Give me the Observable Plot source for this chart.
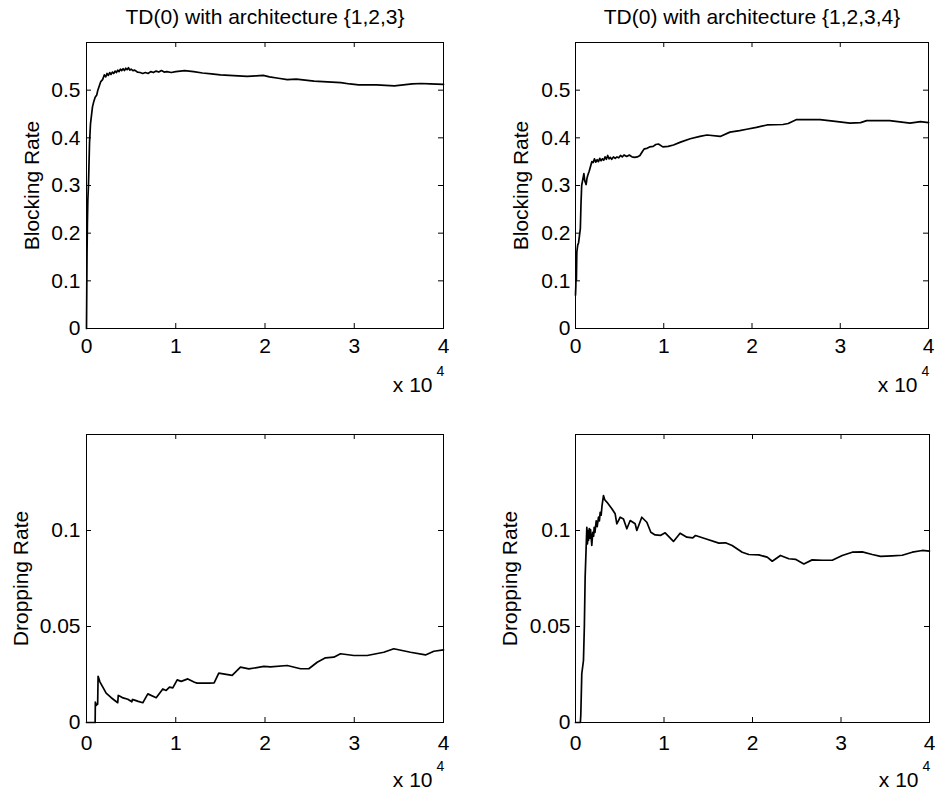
<!DOCTYPE html>
<html>
<head>
<meta charset="utf-8">
<script src="https://cdn.jsdelivr.net/npm/d3@7"></script>
<script src="https://cdn.jsdelivr.net/npm/@observablehq/plot@0.6"></script>
<style>
  body { margin: 0; background: #fff; }
  #chart { position: relative; width: 935px; height: 790px; background: #fff; }
  #chart svg { position: absolute; }
</style>
</head>
<body>
<div id="chart"></div>
<script>
// ---- tick values and labels ----
const xTicks = [0, 10000, 20000, 30000, 40000];
const blockTicks = [0, 0.1, 0.2, 0.3, 0.4, 0.5];
const dropTicks = [0, 0.05, 0.1];
const titles = ["TD(0) with architecture {1,2,3}", "TD(0) with architecture {1,2,3,4}"];
const yLabels = ["Blocking Rate", "Dropping Rate"];
const xExponentBase = "x 10";
const xExponent = "4";

// ---- Blocking rate, architecture {1,2,3} ----
const blockX123 = [0, 30, 60, 100, 150, 220, 340, 450, 670, 800, 970, 1150, 1270, 1450, 1600, 1800, 2000, 2150, 2300, 2450, 2600, 2750, 2900, 3050, 3200, 3350, 3500, 3650, 3800, 3950, 4100, 4250, 4400, 4550, 4700, 4850, 5000, 5200, 5400, 5700, 6000, 6300, 6600, 6900, 7200, 7500, 7800, 8100, 8400, 8700, 9000, 9500, 10000, 11000, 12000, 13000, 14000, 15000, 16000, 17000, 18000, 19000, 19800, 20500, 21500, 22500, 23500, 24500, 25500, 26500, 27500, 28500, 29500, 30500, 31500, 32500, 33500, 34500, 35500, 36500, 37500, 38500, 40000];
const blockY123 = [0.0, 0.08, 0.16, 0.22, 0.27, 0.30, 0.39, 0.43, 0.465, 0.475, 0.485, 0.49, 0.50, 0.51, 0.518, 0.522, 0.532, 0.528, 0.535, 0.531, 0.537, 0.533, 0.538, 0.535, 0.54, 0.537, 0.542, 0.539, 0.544, 0.541, 0.545, 0.541, 0.546, 0.543, 0.547, 0.542, 0.544, 0.541, 0.542, 0.538, 0.537, 0.535, 0.537, 0.535, 0.539, 0.537, 0.540, 0.538, 0.541, 0.538, 0.539, 0.537, 0.539, 0.541, 0.539, 0.536, 0.534, 0.532, 0.531, 0.530, 0.529, 0.530, 0.531, 0.528, 0.525, 0.522, 0.523, 0.521, 0.519, 0.518, 0.517, 0.516, 0.513, 0.511, 0.511, 0.511, 0.510, 0.509, 0.511, 0.513, 0.514, 0.513, 0.512];

// ---- Blocking rate, architecture {1,2,3,4} ----
const blockX1234 = [0, 40, 70, 100, 150, 250, 350, 450, 550, 620, 700, 800, 950, 1050, 1200, 1300, 1400, 1550, 1700, 1850, 2000, 2150, 2300, 2450, 2600, 2750, 2900, 3050, 3200, 3350, 3500, 3650, 3800, 3950, 4100, 4300, 4500, 4700, 4900, 5100, 5300, 5500, 5800, 6100, 6400, 6700, 7000, 7300, 7600, 7800, 8100, 8400, 8800, 9100, 9400, 9900, 10500, 11100, 11900, 13000, 14100, 14900, 16400, 17500, 18600, 19400, 20500, 21700, 23500, 24100, 25000, 26200, 27700, 29200, 31100, 32300, 33000, 35600, 37900, 39100, 40000];
const blockY1234 = [0.07, 0.09, 0.14, 0.10, 0.16, 0.175, 0.18, 0.195, 0.21, 0.26, 0.30, 0.31, 0.325, 0.31, 0.302, 0.315, 0.322, 0.33, 0.34, 0.35, 0.348, 0.356, 0.349, 0.354, 0.350, 0.357, 0.352, 0.356, 0.353, 0.36, 0.355, 0.363, 0.356, 0.359, 0.355, 0.36, 0.357, 0.36, 0.358, 0.363, 0.36, 0.364, 0.361, 0.364, 0.36, 0.359, 0.36, 0.363, 0.372, 0.377, 0.378, 0.381, 0.382, 0.386, 0.387, 0.381, 0.382, 0.385, 0.391, 0.398, 0.403, 0.406, 0.403, 0.412, 0.415, 0.418, 0.422, 0.427, 0.428, 0.430, 0.438, 0.438, 0.438, 0.435, 0.431, 0.432, 0.436, 0.436, 0.431, 0.434, 0.432];

// ---- Dropping rate, architecture {1,2,3} ----
const dropX123 = [0, 970, 990, 1100, 1200, 1250, 1300, 1500, 1830, 2200, 2770, 3500, 3560, 3700, 4100, 4630, 5080, 5150, 5300, 5800, 6310, 6400, 6870, 7810, 8550, 8930, 9300, 9670, 10160, 10610, 11350, 12100, 12400, 13700, 14300, 14820, 16320, 17250, 18190, 19870, 20620, 22490, 23980, 24910, 25850, 26780, 27710, 28460, 29950, 31450, 33310, 34430, 36300, 37980, 38920, 40000];
const dropY123 = [0, 0, 0.0106, 0.0089, 0.0097, 0.0095, 0.0241, 0.0212, 0.0184, 0.0153, 0.0129, 0.0103, 0.0141, 0.0138, 0.0128, 0.0121, 0.0108, 0.012, 0.0118, 0.0110, 0.0103, 0.0110, 0.0149, 0.0129, 0.0175, 0.0167, 0.0184, 0.018, 0.0222, 0.0214, 0.0227, 0.021, 0.0205, 0.0205, 0.0206, 0.0257, 0.0245, 0.0288, 0.0279, 0.0292, 0.029, 0.0297, 0.028, 0.028, 0.0314, 0.0337, 0.034, 0.0358, 0.0349, 0.0349, 0.0366, 0.0384, 0.0366, 0.0352, 0.0371, 0.0378];

// ---- Dropping rate, architecture {1,2,3,4} ----
const dropX1234 = [0, 550, 600, 710, 900, 1000, 1090, 1280, 1350, 1420, 1470, 1560, 1620, 1700, 1840, 1950, 2050, 2110, 2200, 2340, 2450, 2600, 2700, 2790, 2900, 3000, 3160, 3300, 3540, 4110, 4480, 4670, 5050, 5420, 5800, 6180, 6740, 6930, 7490, 8060, 8510, 9000, 9640, 10130, 11070, 11820, 12580, 13250, 13560, 14690, 16200, 16950, 17700, 18840, 19590, 20720, 21660, 22230, 23160, 24100, 24860, 25800, 26740, 27880, 29010, 30140, 31270, 32400, 33530, 34460, 35790, 36920, 38050, 39180, 40000];
const dropY1234 = [0, 0, 0.004, 0.0254, 0.0323, 0.05, 0.0757, 0.1017, 0.093, 0.1, 0.0948, 0.101, 0.096, 0.1005, 0.0922, 0.099, 0.097, 0.1017, 0.099, 0.105, 0.102, 0.107, 0.105, 0.1095, 0.108, 0.113, 0.1182, 0.116, 0.1148, 0.1113, 0.1087, 0.1035, 0.1069, 0.106, 0.1009, 0.1052, 0.1035, 0.1, 0.1069, 0.1043, 0.0991, 0.0977, 0.0975, 0.0988, 0.0943, 0.0986, 0.0965, 0.0962, 0.0974, 0.0957, 0.0934, 0.0936, 0.0922, 0.0887, 0.0875, 0.0873, 0.0861, 0.0840, 0.087, 0.0853, 0.085, 0.0826, 0.0847, 0.0845, 0.0845, 0.087, 0.0887, 0.0889, 0.0875, 0.0865, 0.0868, 0.0871, 0.0887, 0.0896, 0.0893];

const FONT = "'Liberation Sans', Arial, Helvetica, sans-serif";

function panel({left, top, width, height, ml, mr, mt, mb, xs, ys, yDomain, yTicks, title, yLabel, yLabelDx, yPad, xPad, expDy, expSupDy}) {
  const fw = width - ml - mr;
  const fh = height - mt - mb;
  const marks = [
    Plot.frame({stroke: "black", strokeWidth: 1}),
    // inward ticks on all four sides
    Plot.tickX(xTicks, {x: d => d, insetTop: fh - 5, stroke: "black"}),
    Plot.tickX(xTicks, {x: d => d, insetBottom: fh - 5, stroke: "black"}),
    Plot.tickY(yTicks, {y: d => d, insetRight: fw - 5, stroke: "black"}),
    Plot.tickY(yTicks, {y: d => d, insetLeft: fw - 5, stroke: "black"}),
    Plot.axisX({ticks: xTicks, tickSize: 0, tickPadding: xPad, tickFormat: d => String(d / 10000)}),
    Plot.axisY({ticks: yTicks, tickSize: 0, tickPadding: yPad, tickFormat: d => String(d)}),
    Plot.line(d3.zip(xs, ys), {stroke: "black", strokeWidth: 1.7}),
    Plot.text([yLabel], {text: d => d, frameAnchor: "left", rotate: -90, dx: yLabelDx, textAnchor: "middle", lineAnchor: "middle", fill: "black"}),
    Plot.text([xExponentBase], {text: d => d, frameAnchor: "bottom-right", textAnchor: "end", lineAnchor: "bottom", dx: -11, dy: expDy, fill: "black"}),
    Plot.text([xExponent], {text: d => d, frameAnchor: "bottom-right", textAnchor: "start", lineAnchor: "bottom", dx: -7, dy: expSupDy, fontSize: 14, fill: "black"})
  ];
  if (title) {
    marks.push(Plot.text([title], {text: d => d, frameAnchor: "top", textAnchor: "middle", lineAnchor: "bottom", dy: -19, fill: "black"}));
  }
  const svg = Plot.plot({
    width, height,
    marginLeft: ml, marginRight: mr, marginTop: mt, marginBottom: mb,
    x: {domain: [0, 40000], label: null},
    y: {domain: yDomain, label: null},
    style: {fontFamily: FONT, fontSize: "21px", color: "black", background: "transparent", overflow: "visible"},
    marks
  });
  svg.style.left = left + "px";
  svg.style.top = top + "px";
  document.getElementById("chart").appendChild(svg);
}

panel({left: 0, top: 0, width: 467, height: 395, ml: 86, mr: 24, mt: 42, mb: 67,
  xs: blockX123, ys: blockY123, yDomain: [0, 0.6], yTicks: blockTicks, title: titles[0],
  yLabel: yLabels[0], yLabelDx: -54, yPad: 6, xPad: 10, expDy: 63, expSupDy: 47});
panel({left: 467, top: 0, width: 468, height: 395, ml: 108, mr: 7, mt: 42, mb: 67,
  xs: blockX1234, ys: blockY1234, yDomain: [0, 0.6], yTicks: blockTicks, title: titles[1],
  yLabel: yLabels[0], yLabelDx: -54, yPad: 5, xPad: 10, expDy: 63, expSupDy: 47});
panel({left: 0, top: 395, width: 467, height: 395, ml: 86, mr: 24, mt: 39, mb: 68,
  xs: dropX123, ys: dropY123, yDomain: [0, 0.15], yTicks: dropTicks, title: null,
  yLabel: yLabels[1], yLabelDx: -65, yPad: 6, xPad: 13, expDy: 64, expSupDy: 48});
panel({left: 467, top: 395, width: 468, height: 395, ml: 108, mr: 6, mt: 39, mb: 68,
  xs: dropX1234, ys: dropY1234, yDomain: [0, 0.15], yTicks: dropTicks, title: null,
  yLabel: yLabels[1], yLabelDx: -65, yPad: 5, xPad: 13, expDy: 64, expSupDy: 48});
</script>
</body>
</html>
